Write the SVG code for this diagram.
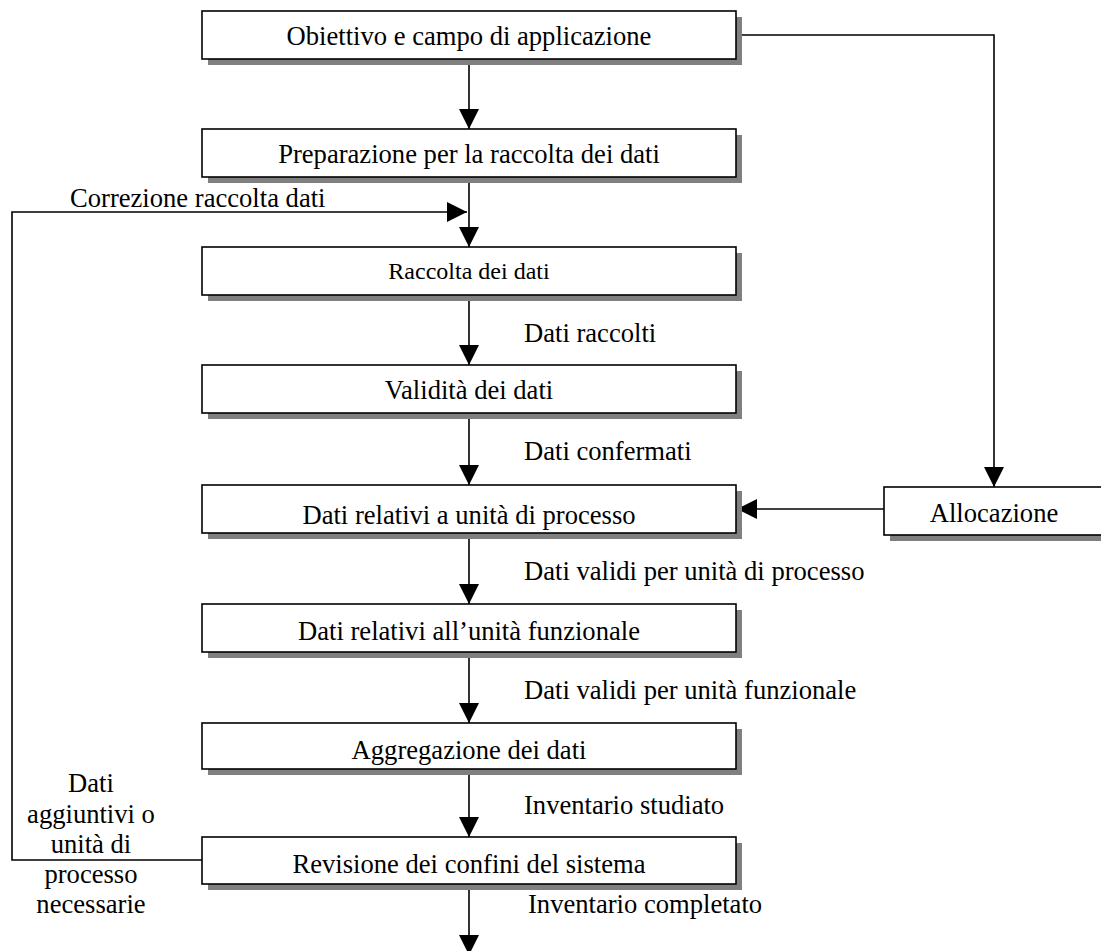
<svg xmlns="http://www.w3.org/2000/svg" width="1101" height="951" viewBox="0 0 1101 951">
  <style>
    .shadow { fill: #808080; stroke: none; }
    .box { fill: #ffffff; stroke: #000000; stroke-width: 1.6; }
    .lbl { font-family: "Liberation Serif", "Times New Roman", serif; font-size: 26.6px; fill: #000000; }
    .mid { text-anchor: middle; }
    .small { font-size: 24px; }
    .wire { fill: none; stroke: #000000; stroke-width: 1.6; }
  </style>
  <defs>
    <marker id="arrow" viewBox="0 0 20 20" refX="20" refY="10" markerWidth="20" markerHeight="20" markerUnits="userSpaceOnUse" orient="auto">
      <path d="M0,0 L20,10 L0,20 Z" fill="#000000"/>
    </marker>
  </defs>
  <rect width="1101" height="951" fill="#ffffff"/>

  <!-- connectors -->
  <g id="connectors">
    <line class="wire" x1="469" y1="59" x2="469" y2="129" marker-end="url(#arrow)"/>
    <line class="wire" x1="469" y1="177" x2="469" y2="247" marker-end="url(#arrow)"/>
    <line class="wire" x1="469" y1="295" x2="469" y2="365" marker-end="url(#arrow)"/>
    <line class="wire" x1="469" y1="413" x2="469" y2="485" marker-end="url(#arrow)"/>
    <line class="wire" x1="469" y1="533" x2="469" y2="604" marker-end="url(#arrow)"/>
    <line class="wire" x1="469" y1="652" x2="469" y2="723" marker-end="url(#arrow)"/>
    <line class="wire" x1="469" y1="769" x2="469" y2="837" marker-end="url(#arrow)"/>
    <line class="wire" x1="469" y1="884" x2="469" y2="955" marker-end="url(#arrow)"/>
    <!-- scope to allocation -->
    <polyline class="wire" points="736,35 994,35 994,487" marker-end="url(#arrow)"/>
    <!-- allocation back to process unit data -->
    <line class="wire" x1="884" y1="509" x2="737" y2="509" marker-end="url(#arrow)"/>
    <!-- feedback loop from boundary revision -->
    <polyline class="wire" points="202,860 12,860 12,212 467,212" marker-end="url(#arrow)"/>
  </g>

  <!-- flow labels -->
  <g id="labels" class="lbl">
    <text x="70" y="207">Correzione raccolta dati</text>
    <text x="524" y="342">Dati raccolti</text>
    <text x="524" y="460">Dati confermati</text>
    <text x="524" y="580">Dati validi per unità di processo</text>
    <text x="524" y="699">Dati validi per unità funzionale</text>
    <text x="524" y="814">Inventario studiato</text>
    <text x="528" y="913">Inventario completato</text>
    <text class="mid" x="91" y="792">Dati</text>
    <text class="mid" x="91" y="823">aggiuntivi o</text>
    <text class="mid" x="91" y="853">unità di</text>
    <text class="mid" x="91" y="883">processo</text>
    <text class="mid" x="91" y="913">necessarie</text>
  </g>

  <g id="n1">
    <rect class="shadow" x="208" y="17" width="534" height="48"/>
    <rect class="box" x="202" y="11" width="534" height="48"/>
    <text class="lbl mid" x="469" y="45">Obiettivo e campo di applicazione</text>
  </g>
  <g id="n2">
    <rect class="shadow" x="208" y="135" width="534" height="48"/>
    <rect class="box" x="202" y="129" width="534" height="48"/>
    <text class="lbl mid" x="469" y="163">Preparazione per la raccolta dei dati</text>
  </g>
  <g id="n3">
    <rect class="shadow" x="208" y="253" width="534" height="48"/>
    <rect class="box" x="202" y="247" width="534" height="48"/>
    <text class="lbl mid small" x="469" y="279">Raccolta dei dati</text>
  </g>
  <g id="n4">
    <rect class="shadow" x="208" y="371" width="534" height="48"/>
    <rect class="box" x="202" y="365" width="534" height="48"/>
    <text class="lbl mid" x="469" y="399">Validità dei dati</text>
  </g>
  <g id="n5">
    <rect class="shadow" x="208" y="491" width="534" height="48"/>
    <rect class="box" x="202" y="485" width="534" height="48"/>
    <text class="lbl mid" x="469" y="524">Dati relativi a unità di processo</text>
  </g>
  <g id="n6">
    <rect class="shadow" x="208" y="610" width="534" height="48"/>
    <rect class="box" x="202" y="604" width="534" height="48"/>
    <text class="lbl mid" x="469" y="640">Dati relativi all’unità funzionale</text>
  </g>
  <g id="n7">
    <rect class="shadow" x="208" y="729" width="534" height="46"/>
    <rect class="box" x="202" y="723" width="534" height="46"/>
    <text class="lbl mid" x="469" y="759">Aggregazione dei dati</text>
  </g>
  <g id="n8">
    <rect class="shadow" x="208" y="843" width="534" height="47"/>
    <rect class="box" x="202" y="837" width="534" height="47"/>
    <text class="lbl mid" x="469" y="873">Revisione dei confini del sistema</text>
  </g>
  <g id="n9">
    <rect class="shadow" x="890" y="493" width="220" height="48"/>
    <rect class="box" x="884" y="487" width="220" height="48"/>
    <text class="lbl mid" x="994" y="522">Allocazione</text>
  </g>
</svg>
